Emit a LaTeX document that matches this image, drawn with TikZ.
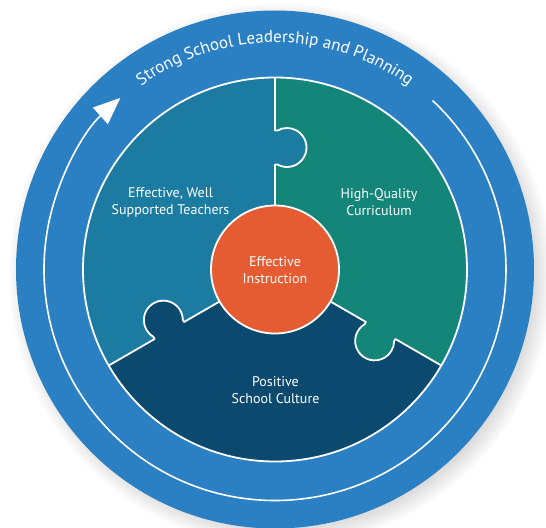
\documentclass[tikz,border=0pt]{standalone}
\usepackage{fontspec}
\setmainfont{PT Sans}
\usetikzlibrary{arrows.meta,decorations.text,shadows}
\definecolor{ringblue}{RGB}{43,127,195}
\definecolor{pieceblue}{RGB}{28,123,161}
\definecolor{pieceteal}{RGB}{20,133,121}
\definecolor{piecenavy}{RGB}{11,73,110}
\definecolor{coreorange}{RGB}{229,92,50}

\begin{document}
\begin{tikzpicture}[x=1pt,y=1pt,
  piecetext/.style={text=white, align=center, font=\fontsize{14}{17}\selectfont},
  seam/.style={draw=white, line width=1.8pt, line join=round},
  ringline/.style={draw=white, line width=1.6pt}]
\useasboundingbox (-275,-258) rectangle (271,269.5);
\fill[white] (-275,-258) rectangle (271,269.5);

% outer ring with soft shadow
\fill[ringblue, circular drop shadow={shadow xshift=5pt, shadow yshift=-5pt, shadow scale=1.05, opacity=0.55}] (0,0) circle[radius=259];

% cycle arrow around the puzzle
\draw[ringline, -{Triangle[length=27pt,width=22pt]}] (47:231) arc[start angle=47, end angle=-228, radius=231];

% title along the top of the ring
\path[decorate, decoration={text along path, text align=center,
  text={|\color{white}\fontsize{17}{20}\selectfont|Strong School Leadership and Planning}}]
  (160:227) arc[start angle=160, end angle=20, radius=227];

% three puzzle pieces
\fill[pieceblue] (0,0) -- (90:192) arc[start angle=90, end angle=210, radius=192] -- cycle;
\fill[piecenavy] (0,0) -- (210:192) arc[start angle=210, end angle=330, radius=192] -- cycle;
\fill[pieceteal] (0,0) -- (330:192) arc[start angle=330, end angle=450, radius=192] -- cycle;

% knobs and seams between the pieces
\foreach \a/\c in {90/pieceblue, 210/piecenavy, 330/pieceteal}{
  \begin{scope}[rotate=\a]
    \fill[\c] (105,1.5) -- (105,-2.45) arc[start angle=150.67, end angle=389.33, radius=19.5] -- (139,1.5) -- cycle;
    \draw[seam] (0,0) -- (105,0) -- (105,-2.45) arc[start angle=150.67, end angle=389.33, radius=19.5] -- (139,0) -- (192,0);
  \end{scope}
}
\draw[seam] (0,0) circle[radius=192];

% centre piece
\node[circle, fill=coreorange, draw=white, line width=1.8pt, minimum size=128pt, inner sep=0pt] (core) at (0,0) {};
\node[piecetext] (instruction) at (0,-1) {Effective\\Instruction};

\node[piecetext] (teachers) at (-104.5,67.5) {Effective, Well\\Supported Teachers};
\node[piecetext] (curriculum) at (104,67.5) {High-Quality\\Curriculum};
\node[piecetext] (culture) at (0.5,-121) {Positive\\School Culture};
\end{tikzpicture}
\end{document}
